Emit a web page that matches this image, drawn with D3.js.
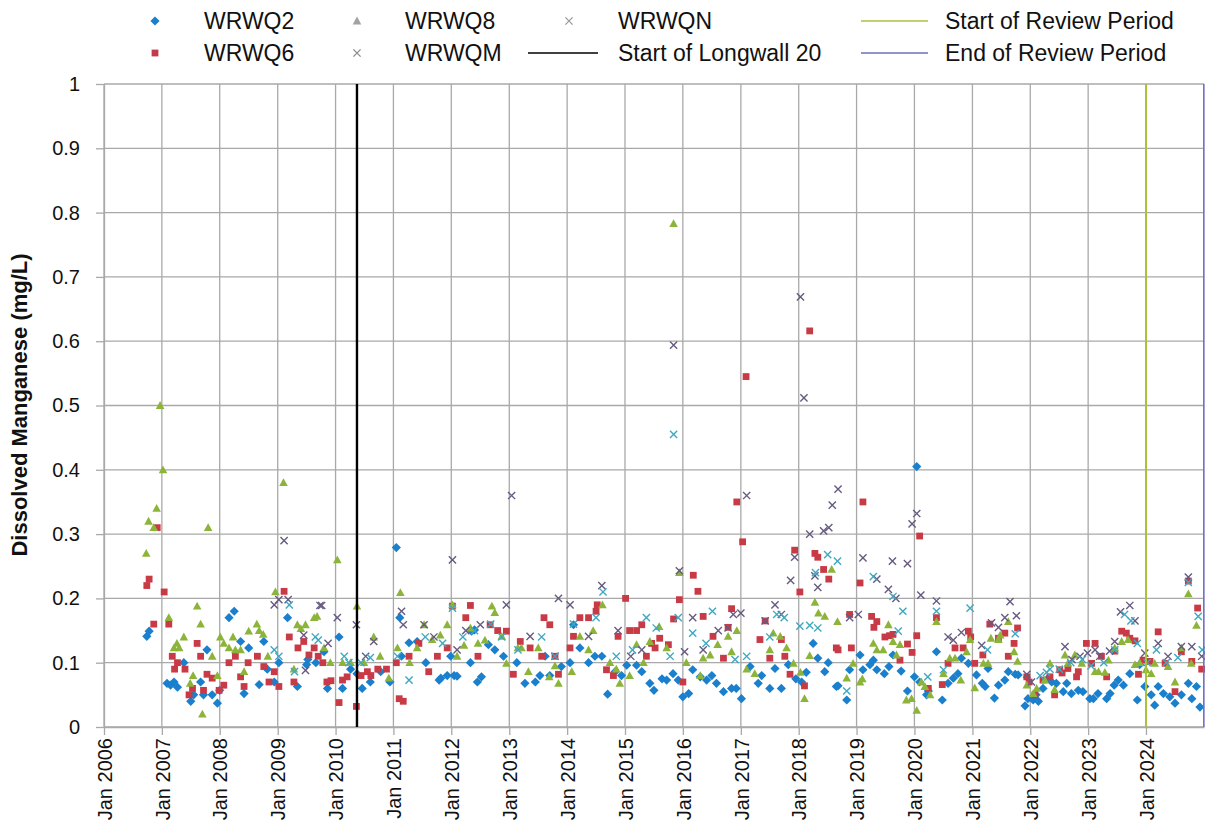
<!DOCTYPE html>
<html><head><meta charset="utf-8">
<script src="https://cdn.jsdelivr.net/npm/d3@7"></script>
<style>body{margin:0;background:#fff} text{font-family:"Liberation Sans",Arial,sans-serif;fill:#111}</style>
</head><body><svg id="c" width="1205" height="827"></svg>
<script>
// ---- data: [decimal year, mg/L] ----
const wrwq2 = [[2006.74,0.141],[2006.78,0.149],[2007.09,0.068],[2007.15,0.065],[2007.21,0.07],[2007.27,0.062],[2007.38,0.10],[2007.5,0.04],[2007.55,0.05],[2007.67,0.07],[2007.72,0.05],[2007.78,0.12],[2007.87,0.05],[2007.96,0.037],[2008.0,0.057],
[2008.16,0.17],[2008.25,0.18],[2008.36,0.133],[2008.42,0.052],[2008.5,0.123],[2008.68,0.066],[2008.76,0.133],[2008.82,0.09],[2008.94,0.07],[2009.02,0.10],[2009.17,0.17],[2009.34,0.063],[2009.5,0.097],[2009.52,0.105],[2009.66,0.10],[2009.8,0.117],[2009.86,0.06],[2010.06,0.14],[2010.12,0.06],[2010.26,0.09],[2010.37,0.083],[2010.46,0.06],[2010.6,0.07],[2010.78,0.086],[2010.94,0.07],[2011.05,0.279],[2011.11,0.17],[2011.14,0.11],[2011.27,0.131],[2011.41,0.133],[2011.56,0.10],[2011.79,0.073],[2011.82,0.076],[2011.93,0.08],[2011.99,0.11],[2012.05,0.08],[2012.1,0.079],[2012.33,0.10],
[2012.35,0.149],[2012.4,0.151],[2012.45,0.07],[2012.52,0.078],[2012.64,0.128],[2012.75,0.12],[2012.9,0.11],[2013.13,0.10],[2013.27,0.068],[2013.45,0.07],[2013.53,0.08],[2013.62,0.11],[2013.7,0.08],[2013.9,0.094],[2014.05,0.10],[2014.11,0.159],[2014.22,0.123],[2014.37,0.10],[2014.48,0.11],[2014.6,0.11],[2014.7,0.051],[2014.83,0.086],[2014.94,0.08],[2015.03,0.096],[2015.2,0.096],[2015.29,0.086],[2015.43,0.068],[2015.5,0.057],[2015.64,0.075],[2015.72,0.073],[2015.83,0.083],[2015.92,0.073],[2016.0,0.047],[2016.1,0.052],[2016.17,0.089],[2016.3,0.078],[2016.41,0.073],[2016.5,0.08],[2016.58,0.068],[2016.7,0.055],[2016.84,0.06],[2016.92,0.06],[2017.01,0.044],[2017.16,0.094],[2017.3,0.068],[2017.36,0.08],[2017.5,0.06],[2017.59,0.091],[2017.7,0.06],[2017.82,0.097],[2017.95,0.075],[2018.05,0.07],[2018.13,0.085],
[2018.25,0.13],[2018.33,0.107],[2018.45,0.086],[2018.51,0.10],[2018.65,0.063],[2018.68,0.064],[2018.83,0.042],[2018.88,0.089],[2019.06,0.112],[2019.11,0.089],[2019.23,0.097],[2019.29,0.104],[2019.35,0.089],[2019.48,0.083],[2019.56,0.094],[2019.63,0.112],[2019.77,0.087],[2019.88,0.056],[2020.0,0.078],[2020.04,0.405],[2020.09,0.07],[2020.21,0.05],[2020.24,0.056],[2020.38,0.117],[2020.48,0.042],[2020.58,0.068],[2020.67,0.076],[2020.75,0.083],[2020.81,0.107],[2020.93,0.099],[2021.07,0.081],[2021.17,0.068],[2021.22,0.063],[2021.27,0.091],[2021.38,0.045],[2021.45,0.065],[2021.56,0.073],[2021.62,0.086],[2021.74,0.082],[2021.79,0.081],[2021.91,0.033],[2021.96,0.044],[2022.05,0.042],[2022.1,0.05],[2022.14,0.04],[2022.22,0.06],[2022.31,0.076],[2022.37,0.07],[2022.45,0.068],[2022.57,0.055],[2022.63,0.068],[2022.71,0.052],[2022.83,0.057],[2022.91,0.055],[2023.03,0.044],[2023.09,0.044],[2023.17,0.052],[2023.32,0.044],[2023.38,0.052],[2023.45,0.065],[2023.52,0.073],[2023.61,0.065],[2023.72,0.083],[2023.85,0.042],[2023.89,0.097],[2023.98,0.063],[2024.09,0.05],[2024.15,0.034],[2024.21,0.063],[2024.3,0.052],[2024.41,0.047],[2024.5,0.037],[2024.61,0.05],[2024.73,0.068],[2024.79,0.044],[2024.87,0.063],[2024.93,0.031]];

const wrwq6 = [[2006.74,0.22],[2006.78,0.23],[2006.86,0.16],[2006.92,0.31],[2007.04,0.21],[2007.12,0.16],[2007.18,0.11],[2007.22,0.09],[2007.27,0.10],[2007.4,0.09],[2007.47,0.05],[2007.53,0.06],[2007.61,0.13],[2007.67,0.11],[2007.72,0.057],[2007.78,0.082],[2007.87,0.076],[2007.99,0.057],[2008.07,0.065],[2008.16,0.10],[2008.27,0.11],[2008.36,0.078],[2008.42,0.063],[2008.49,0.10],[2008.65,0.11],[2008.76,0.094],[2008.85,0.07],[2008.94,0.086],[2009.02,0.063],[2009.11,0.211],[2009.2,0.14],[2009.28,0.07],[2009.35,0.123],[2009.45,0.133],[2009.54,0.112],[2009.63,0.123],[2009.7,0.11],[2009.78,0.10],[2009.85,0.07],[2009.92,0.072],[2010.06,0.038],[2010.12,0.073],[2010.2,0.078],[2010.36,0.032],[2010.44,0.08],[2010.55,0.086],[2010.61,0.08],[2010.73,0.09],[2010.88,0.09],[2011.05,0.10],[2011.1,0.044],[2011.17,0.04],[2011.27,0.11],[2011.44,0.13],[2011.61,0.086],[2011.76,0.11],[2011.93,0.123],[2012.02,0.188],[2012.25,0.17],[2012.33,0.189],
[2012.46,0.11],[2012.67,0.159],[2012.8,0.15],[2012.95,0.149],[2013.07,0.082],[2013.19,0.133],[2013.36,0.123],[2013.56,0.11],[2013.6,0.17],[2013.7,0.159],[2013.79,0.11],[2013.85,0.082],[2014.05,0.123],[2014.11,0.141],[2014.22,0.17],[2014.37,0.17],[2014.5,0.18],[2014.52,0.19],[2014.68,0.089],[2014.8,0.08],[2014.88,0.141],[2015.01,0.2],[2015.08,0.15],[2015.2,0.15],[2015.29,0.159],[2015.37,0.11],[2015.46,0.13],[2015.52,0.123],[2015.6,0.138],[2015.75,0.128],[2015.84,0.168],[2015.94,0.198],[2016.0,0.07],[2016.18,0.236],[2016.26,0.211],[2016.35,0.172],[2016.52,0.141],[2016.7,0.107],[2016.78,0.155],[2016.84,0.184],[2016.93,0.35],[2017.03,0.288],[2017.09,0.545],[2017.33,0.136],[2017.42,0.165],[2017.5,0.107],[2017.7,0.136],[2017.76,0.11],[2017.85,0.082],[2017.93,0.275],[2018.02,0.21],[2018.1,0.064],[2018.19,0.616],[2018.28,0.27],[2018.33,0.264],[2018.43,0.245],[2018.52,0.23],[2018.65,0.123],
[2018.68,0.12],[2018.88,0.175],[2018.91,0.123],[2019.06,0.224],[2019.11,0.35],[2019.26,0.172],[2019.3,0.155],[2019.35,0.164],[2019.49,0.14],[2019.57,0.142],[2019.63,0.144],[2019.75,0.104],[2019.88,0.129],[2019.96,0.116],[2020.04,0.142],[2020.09,0.297],[2020.24,0.06],[2020.38,0.17],[2020.48,0.066],[2020.58,0.099],[2020.7,0.123],[2020.84,0.123],[2020.93,0.149],[2020.97,0.14],[2021.04,0.099],[2021.18,0.112],[2021.3,0.16],[2021.45,0.138],[2021.56,0.146],[2021.62,0.11],[2021.72,0.13],[2021.78,0.154],[2021.94,0.078],[2021.98,0.07],[2022.08,0.05],[2022.22,0.073],[2022.34,0.078],[2022.42,0.05],[2022.51,0.089],[2022.55,0.084],[2022.65,0.091],[2022.8,0.078],[2022.83,0.086],[2022.97,0.13],[2023.06,0.099],[2023.12,0.13],[2023.23,0.11],[2023.32,0.078],[2023.46,0.118],[2023.58,0.149],[2023.66,0.146],[2023.72,0.138],[2023.81,0.134],[2023.87,0.082],[2023.95,0.104],[2024.07,0.102],[2024.21,0.148],[2024.33,0.099],[2024.5,0.055],[2024.61,0.117],[2024.73,0.227],[2024.79,0.102],[2024.89,0.185],[2024.96,0.09]];

const wrwq8 = [[2006.73,0.27],[2006.77,0.32],[2006.86,0.31],[2006.91,0.34],[2006.97,0.50],[2007.02,0.40],[2007.12,0.17],[2007.21,0.123],[2007.26,0.13],[2007.3,0.123],[2007.38,0.14],[2007.49,0.068],[2007.54,0.08],[2007.61,0.188],[2007.67,0.16],[2007.7,0.02],[2007.8,0.31],[2007.87,0.11],[2007.96,0.08],[2008.01,0.14],[2008.07,0.13],[2008.16,0.123],[2008.23,0.14],[2008.27,0.12],[2008.36,0.12],[2008.42,0.086],[2008.5,0.149],[2008.64,0.16],[2008.68,0.15],[2008.75,0.144],[2008.83,0.11],[2008.96,0.21],[2009.1,0.38],[2009.28,0.09],[2009.34,0.159],[2009.4,0.153],[2009.48,0.159],[2009.63,0.17],[2009.68,0.172],[2009.8,0.123],[2009.91,0.10],[2010.03,0.26],[2010.12,0.10],[2010.26,0.10],[2010.37,0.188],[2010.49,0.10],[2010.66,0.14],[2010.77,0.11],[2010.92,0.076],[2011.07,0.123],[2011.12,0.209],[2011.28,0.10],[2011.41,0.123],[2011.53,0.159],[2011.67,0.136],[2011.81,0.143],[2011.93,0.159],[2012.02,0.19],[2012.1,0.11],[2012.22,0.127],[2012.33,0.154],
[2012.46,0.13],[2012.58,0.135],[2012.7,0.188],[2012.75,0.178],[2012.87,0.141],[2012.95,0.099],[2013.15,0.123],[2013.21,0.123],[2013.33,0.086],[2013.5,0.123],[2013.69,0.078],[2013.79,0.095],[2013.85,0.068],[2014.08,0.086],[2014.22,0.141],[2014.37,0.12],[2014.45,0.15],[2014.61,0.19],[2014.74,0.10],[2014.85,0.09],[2014.91,0.068],[2015.08,0.08],[2015.2,0.128],[2015.32,0.10],[2015.43,0.133],[2015.59,0.156],[2015.72,0.123],[2015.84,0.783],[2015.94,0.24],[2016.06,0.10],[2016.3,0.08],[2016.35,0.107],[2016.47,0.112],[2016.6,0.128],[2016.78,0.141],[2016.84,0.117],[2016.93,0.15],[2017.1,0.09],[2017.24,0.083],[2017.5,0.12],[2017.56,0.146],[2017.68,0.141],[2017.79,0.123],[2017.91,0.099],[2018.03,0.085],[2018.1,0.044],[2018.19,0.111],[2018.28,0.194],[2018.34,0.177],[2018.45,0.172],[2018.57,0.245],[2018.67,0.164],
[2018.83,0.076],[2018.94,0.099],[2019.06,0.07],[2019.1,0.075],[2019.29,0.13],[2019.35,0.12],[2019.46,0.12],[2019.55,0.159],[2019.63,0.133],[2019.69,0.112],[2019.75,0.128],[2019.86,0.042],[2019.95,0.044],[2020.04,0.026],[2020.12,0.07],[2020.18,0.063],[2020.27,0.05],[2020.38,0.164],[2020.5,0.083],[2020.61,0.107],[2020.7,0.107],[2020.8,0.073],[2020.9,0.117],[2020.96,0.136],[2021.04,0.061],[2021.19,0.099],[2021.27,0.099],[2021.32,0.138],[2021.45,0.136],[2021.48,0.143],[2021.62,0.164],[2021.72,0.117],[2021.78,0.102],[2021.94,0.065],[2022.05,0.052],[2022.11,0.06],[2022.25,0.073],[2022.34,0.099],[2022.42,0.058],[2022.6,0.112],[2022.65,0.099],[2022.77,0.112],[2022.89,0.099],[2023.12,0.086],[2023.18,0.086],[2023.29,0.085],[2023.35,0.104],[2023.46,0.123],[2023.58,0.133],[2023.69,0.136],[2023.81,0.097],[2023.89,0.1],[2024.0,0.089],[2024.09,0.083],[2024.15,0.099],[2024.38,0.094],[2024.5,0.07],[2024.61,0.123],[2024.73,0.207],[2024.78,0.099],[2024.87,0.158]];

const wrwqm = [[2008.94,0.19],[2009.02,0.198],[2009.11,0.29],[2009.18,0.198],[2009.45,0.143],[2009.48,0.088],[2009.73,0.189],[2009.76,0.189],[2009.87,0.13],[2010.03,0.17],[2010.36,0.159],[2010.52,0.11],[2010.66,0.133],[2011.14,0.18],[2011.17,0.159],[2011.53,0.159],[2011.7,0.14],[2012.02,0.26],[2012.1,0.12],[2012.25,0.15],[2012.5,0.159],[2012.95,0.19],[2013.04,0.36],[2013.36,0.141],[2013.79,0.11],[2013.85,0.2],[2014.05,0.19],[2014.37,0.141],[2014.6,0.22],[2014.88,0.15],[2015.1,0.11],[2015.29,0.12],[2015.84,0.594],[2015.94,0.243],[2016.03,0.117],[2016.17,0.17],[2016.35,0.12],[2016.61,0.15],[2016.78,0.154],[2016.87,0.175],[2017.0,0.177],[2017.1,0.36],[2017.42,0.165],[2017.59,0.19],[2017.7,0.175],[2017.86,0.228],[2017.93,0.264],[2018.03,0.669],[2018.09,0.512],[2018.19,0.30],[2018.28,0.235],[2018.33,0.217],[2018.43,0.305],[2018.52,0.31],[2018.58,0.345],[2018.68,0.37],[2018.88,0.17],[2019.03,0.175],[2019.11,0.263],[2019.35,0.23],[2019.55,0.214],[2019.62,0.258],[2019.68,0.2],[2019.88,0.254],[2019.96,0.316],[2020.04,0.332],[2020.11,0.205],[2020.38,0.196],[2020.58,0.14],[2020.67,0.135],[2020.81,0.147],[2021.16,0.127],[2021.33,0.162],[2021.45,0.155],[2021.56,0.17],[2021.65,0.195],[2021.76,0.173],[2021.94,0.082],[2022.02,0.07],[2022.6,0.125],[2022.72,0.105],[2022.86,0.11],[2022.99,0.115],[2023.12,0.12],[2023.2,0.11],[2023.37,0.118],[2023.46,0.133],[2023.56,0.179],[2023.72,0.189],[2023.81,0.165],[2023.98,0.115],[2024.21,0.13],[2024.38,0.11],[2024.61,0.125],[2024.73,0.233],[2024.79,0.125],[2024.96,0.11]];

const wrwqn = [[2008.94,0.12],[2009.02,0.11],[2009.2,0.19],[2009.29,0.086],[2009.65,0.14],[2009.7,0.135],[2010.15,0.11],[2010.23,0.1],[2010.44,0.1],[2010.6,0.108],[2011.07,0.11],[2011.27,0.073],[2011.55,0.14],[2011.85,0.13],[2012.02,0.185],[2012.2,0.14],[2012.4,0.15],[2012.68,0.16],[2012.87,0.14],[2013.15,0.12],[2013.56,0.14],[2013.79,0.11],[2014.11,0.16],[2014.5,0.17],[2014.62,0.21],[2014.85,0.11],[2015.13,0.12],[2015.37,0.17],[2015.54,0.154],[2015.78,0.11],[2015.84,0.455],[2015.92,0.17],[2016.17,0.146],[2016.4,0.13],[2016.51,0.18],[2016.9,0.105],[2017.1,0.11],[2017.5,0.14],[2017.62,0.175],[2017.75,0.17],[2018.02,0.157],[2018.19,0.158],[2018.29,0.24],[2018.33,0.154],[2018.5,0.268],[2018.67,0.258],[2018.83,0.056],[2019.29,0.234],[2019.63,0.203],[2019.72,0.149],[2019.8,0.18],[2020.23,0.078],[2020.38,0.18],[2020.5,0.089],[2020.96,0.185],[2021.26,0.12],[2021.74,0.145],[2022.17,0.08],[2022.28,0.085],[2022.34,0.09],[2022.5,0.09],[2022.7,0.1],[2022.9,0.105],[2023.05,0.095],[2023.27,0.1],[2023.46,0.12],[2023.63,0.175],[2023.74,0.165],[2023.85,0.13],[2024.02,0.1],[2024.18,0.12],[2024.35,0.1],[2024.55,0.108],[2024.73,0.225],[2024.9,0.172],[2024.97,0.12]];

const seriesNames = ["WRWQ2","WRWQ6","WRWQ8","WRWQM","WRWQN"];
const yTicks = [0,0.1,0.2,0.3,0.4,0.5,0.6,0.7,0.8,0.9,1];
const xTickYears = [2006,2007,2008,2009,2010,2011,2012,2013,2014,2015,2016,2017,2018,2019,2020,2021,2022,2023,2024];
const eventNames = ["Start of Longwall 20","Start of Review Period","End of Review Period"];
const eventTimes = [2010.37, 2024.0, 2024.997];

// ---- drawing ----
const svg = d3.select("#c");
const toDate = t => { const yr = Math.floor(t); const s = new Date(yr,0,1), e = new Date(yr+1,0,1); return new Date(+s + (t-yr)*(e-s)); };
const x = d3.scaleTime().domain([new Date(2006,0,1), new Date(2025,0,1)]).range([104,1204]);
const y = d3.scaleLinear().domain([0,1]).range([727,84]);
const gridCol = "#a9a9a9";

const colors = {WRWQ2:"#1a7fcc", WRWQ6:"#c83a46", WRWQ8:"#8db43a", WRWQM:"#675a80", WRWQN:"#3fa8c0"};
const evColors = ["#000000","#a8c23c","#6e6ec4"];
const evWidths = [2.4,2,1.6];

// grid
const g = svg.append("g");
g.selectAll("line.h").data(yTicks).join("line")
  .attr("x1",x.range()[0]).attr("x2",x.range()[1]).attr("y1",d=>y(d)).attr("y2",d=>y(d))
  .attr("stroke",gridCol).attr("stroke-width",1.3);
g.selectAll("line.v").data(xTickYears).join("line")
  .attr("x1",d=>x(new Date(d,0,1))).attr("x2",d=>x(new Date(d,0,1))).attr("y1",y(0)).attr("y2",y(1))
  .attr("stroke",gridCol).attr("stroke-width",1.3);

// axes
const xa = svg.append("g").attr("transform",`translate(0,${y(0)})`)
  .call(d3.axisBottom(x).tickValues(xTickYears.map(d=>new Date(d,0,1))).tickFormat(d3.timeFormat("Jan %Y")).tickSize(8).tickSizeOuter(0));
xa.select(".domain").attr("stroke",gridCol).attr("stroke-width",1.3);
xa.selectAll(".tick line").attr("stroke",gridCol).attr("stroke-width",1.3);
xa.selectAll(".tick text").attr("transform","rotate(-90)").attr("text-anchor","end")
  .attr("x",-11).attr("y",0).attr("dy","0.36em").style("font-size","20px");

const ya = svg.append("g").attr("transform",`translate(${x.range()[0]},0)`)
  .call(d3.axisLeft(y).tickValues(yTicks).tickFormat(d3.format("~g")).tickSize(8).tickPadding(16).tickSizeOuter(0));
ya.select(".domain").attr("stroke",gridCol).attr("stroke-width",1.3);
ya.selectAll(".tick line").attr("stroke",gridCol).attr("stroke-width",1.3);
ya.selectAll(".tick text").style("font-size","20px");

svg.append("text").attr("transform","translate(27,405) rotate(-90)").attr("text-anchor","middle")
  .style("font-size","22px").style("font-weight","bold").text("Dissolved Manganese (mg/L)");

// markers
const shapes = {
  diamond: "M0,-4.6L4.6,0L0,4.6L-4.6,0Z",
  square: "M-3.4,-3.4H3.4V3.4H-3.4Z",
  triangle: "M0,-4.4L4.3,3.4H-4.3Z",
  cross: "M-3.6,-3.6L3.6,3.6M-3.6,3.6L3.6,-3.6"
};
const seriesDefs = [
  {name:"WRWQ2", data:wrwq2, shape:"diamond"},
  {name:"WRWQ6", data:wrwq6, shape:"square"},
  {name:"WRWQ8", data:wrwq8, shape:"triangle"},
  {name:"WRWQM", data:wrwqm, shape:"cross"},
  {name:"WRWQN", data:wrwqn, shape:"cross"}
];
const pg = svg.append("g");
seriesDefs.forEach(s => {
  const isCross = s.shape==="cross";
  pg.append("g").selectAll("path").data(s.data).join("path")
    .attr("transform",d=>`translate(${x(toDate(d[0]))},${y(d[1])})`)
    .attr("d",shapes[s.shape])
    .attr("fill",isCross?"none":colors[s.name])
    .attr("stroke",isCross?colors[s.name]:"none")
    .attr("stroke-width",isCross?1.4:0);
});

// event lines
svg.append("g").selectAll("line").data(eventTimes).join("line")
  .attr("x1",d=>x(toDate(d))).attr("x2",d=>x(toDate(d))).attr("y1",y(0)).attr("y2",y(1))
  .attr("stroke",(d,i)=>evColors[i]).attr("stroke-width",(d,i)=>evWidths[i]);

// legend
const lg = svg.append("g").style("font-size","23px");
const rows = [21,53];
const legendItems = [
  {label:seriesNames[0], kind:"diamond", col:"#1a7fcc", mx:155, tx:204, r:0},
  {label:seriesNames[1], kind:"square", col:"#c23a4c", mx:155, tx:204, r:1},
  {label:seriesNames[2], kind:"triangle", col:"#a2a2a2", mx:357, tx:405, r:0},
  {label:seriesNames[3], kind:"cross", col:"#8a8a8a", mx:357, tx:405, r:1},
  {label:seriesNames[4], kind:"cross", col:"#9a9a9a", mx:569, tx:618, r:0},
  {label:eventNames[0], kind:"line", col:evColors[0], mx:[528,598], tx:618, r:1},
  {label:eventNames[1], kind:"line", col:evColors[1], mx:[861,928], tx:945, r:0},
  {label:eventNames[2], kind:"line", col:evColors[2], mx:[861,928], tx:945, r:1}
];
legendItems.forEach(it => {
  const yy = rows[it.r];
  if (it.kind==="line") {
    lg.append("line").attr("x1",it.mx[0]).attr("x2",it.mx[1]).attr("y1",yy).attr("y2",yy)
      .attr("stroke",it.col).attr("stroke-width",1.6);
  } else {
    const cross = it.kind==="cross";
    lg.append("path").attr("transform",`translate(${it.mx},${yy})`).attr("d",shapes[it.kind])
      .attr("fill",cross?"none":it.col).attr("stroke",cross?it.col:"none").attr("stroke-width",1.3);
  }
  lg.append("text").attr("x",it.tx).attr("y",yy).attr("dy","0.36em").text(it.label);
});
</script></body></html>
